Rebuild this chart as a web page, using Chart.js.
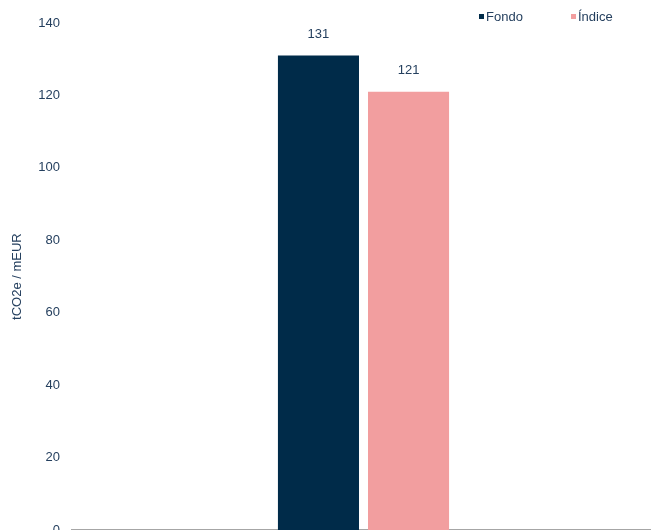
<!DOCTYPE html>
<html lang="es">
<head>
<meta charset="UTF-8">
<title>Intensidad de carbono</title>
<style>
    html, body { margin: 0; padding: 0; background: #fff; overflow: hidden; }
    .chart-box { position: relative; width: 655px; height: 550px; }
</style>
</head>
<body>
<div class="chart-box">
    <canvas id="chart1"></canvas>
</div>
<script src="https://cdn.jsdelivr.net/npm/chart.js@4/dist/chart.umd.min.js"></script>
<script>
    // datos
    const categories = [''];
    const seriesNames = ['Fondo', 'Índice'];
    const fondoValues = [131];
    const indiceValues = [121];
    const yTicks = [0, 20, 40, 60, 80, 100, 120, 140];

    const colors = ['#002b49', '#f29e9f'];
    const textColor = '#243f5e';
    const fontFamily = '"Liberation Sans", Arial, sans-serif';

    // etiquetas de valor encima de cada barra
    const valueLabels = {
        id: 'valueLabels',
        afterDatasetsDraw(chart) {
            const ctx = chart.ctx;
            ctx.save();
            ctx.fillStyle = textColor;
            ctx.font = '13px ' + fontFamily;
            ctx.textAlign = 'center';
            ctx.textBaseline = 'middle';
            chart.data.datasets.forEach((ds, i) => {
                chart.getDatasetMeta(i).data.forEach((bar, j) => {
                    ctx.fillText(ds.data[j], bar.x, bar.y - 21);
                });
            });
            ctx.restore();
        }
    };

    // leyenda arriba a la derecha
    const topLegend = {
        id: 'topLegend',
        afterDraw(chart) {
            const ctx = chart.ctx;
            const xs = [479, 571];
            ctx.save();
            ctx.font = '13px ' + fontFamily;
            ctx.textBaseline = 'middle';
            chart.data.datasets.forEach((ds, i) => {
                ctx.fillStyle = ds.backgroundColor;
                ctx.fillRect(xs[i], 14, 5, 5);
                ctx.fillStyle = textColor;
                ctx.fillText(ds.label, xs[i] + 7, 17);
            });
            ctx.restore();
        }
    };

    new Chart(document.getElementById('chart1'), {
        type: 'bar',
        data: {
            labels: categories,
            datasets: [
                { label: seriesNames[0], data: fondoValues, backgroundColor: colors[0] },
                { label: seriesNames[1], data: indiceValues, backgroundColor: colors[1] }
            ]
        },
        options: {
            responsive: true,
            maintainAspectRatio: false,
            animation: false,
            layout: { padding: { top: 23, right: 0, bottom: 11, left: 10 } },
            categoryPercentage: 0.309,
            barPercentage: 0.9,
            plugins: {
                legend: { display: false },
                tooltip: { enabled: false }
            },
            scales: {
                x: {
                    grid: { display: false, drawTicks: false },
                    border: { display: true, color: '#a6a6a6', width: 1.5 },
                    ticks: { display: false },
                    afterFit(scale) { scale.height = 0; }
                },
                y: {
                    min: 0,
                    max: 140,
                    afterBuildTicks(scale) { scale.ticks = yTicks.map(v => ({ value: v })); },
                    grid: { display: false, drawTicks: false },
                    border: { display: false },
                    ticks: {
                        color: textColor,
                        padding: 12,
                        font: { family: fontFamily, size: 13 }
                    },
                    title: {
                        display: true,
                        text: 'tCO2e / mEUR',
                        color: textColor,
                        padding: 0,
                        font: { family: fontFamily, size: 13 }
                    },
                    afterFit(scale) { scale.width = 62; }
                }
            }
        },
        plugins: [valueLabels, topLegend]
    });
</script>
</body>
</html>
